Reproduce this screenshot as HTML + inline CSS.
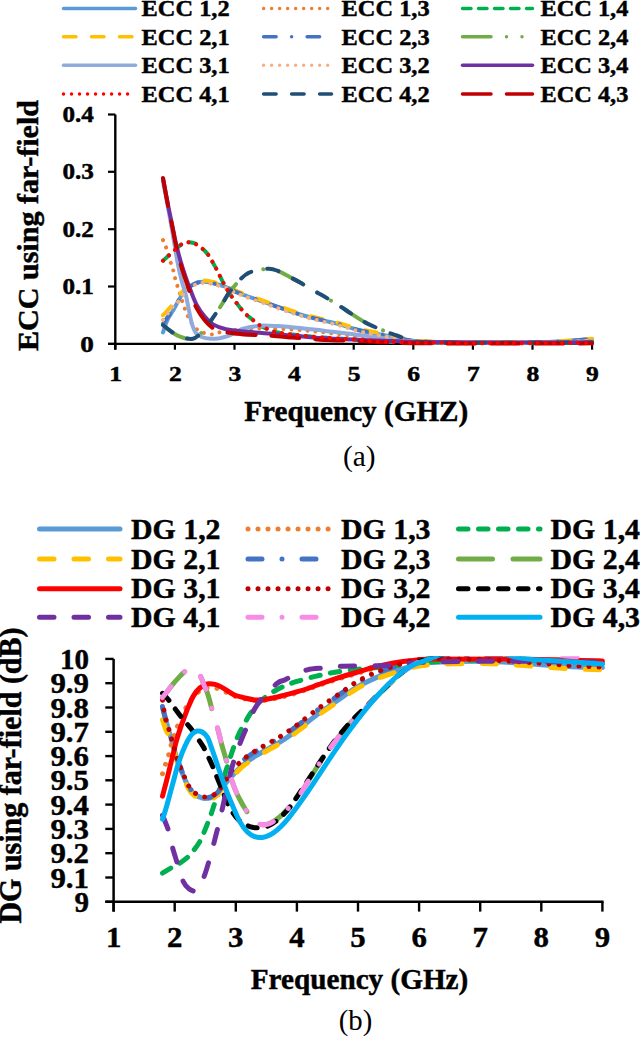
<!DOCTYPE html>
<html><head><meta charset="utf-8"><title>ECC and DG</title>
<style>
html,body{margin:0;padding:0;background:#fff;}
body{width:640px;height:1037px;overflow:hidden;}
svg{display:block;}
text{font-family:"Liberation Serif",serif;}
text[font-weight="bold"]{stroke:#000;stroke-width:0.45px;paint-order:stroke;}
</style></head><body>
<svg width="640" height="1037" viewBox="0 0 640 1037">
<rect width="640" height="1037" fill="#fff"/>

<line x1="63.5" y1="8.4" x2="135.5" y2="8.4" stroke="#5B9BD5" stroke-width="3.5" stroke-linecap="round"/>
<text x="141.6" y="15.6" font-size="23.0" text-anchor="start" font-weight="bold" textLength="88.0" lengthAdjust="spacingAndGlyphs">ECC 1,2</text>
<line x1="263.6" y1="8.4" x2="331.5" y2="8.4" stroke="#ED7D31" stroke-width="3.5" stroke-linecap="round" stroke-dasharray="0.01 8.00"/>
<text x="341.6" y="15.6" font-size="23.0" text-anchor="start" font-weight="bold" textLength="88.0" lengthAdjust="spacingAndGlyphs">ECC 1,3</text>
<line x1="462.5" y1="8.4" x2="532.5" y2="8.4" stroke="#00B050" stroke-width="3.5" stroke-linecap="round" stroke-dasharray="8.50 7.50"/>
<text x="540.4" y="15.6" font-size="23.0" text-anchor="start" font-weight="bold" textLength="88.0" lengthAdjust="spacingAndGlyphs">ECC 1,4</text>
<line x1="63.5" y1="36.8" x2="135.5" y2="36.8" stroke="#FFC000" stroke-width="3.5" stroke-linecap="round" stroke-dasharray="12.50 15.50"/>
<text x="141.6" y="44.7" font-size="23.0" text-anchor="start" font-weight="bold" textLength="88.0" lengthAdjust="spacingAndGlyphs">ECC 2,1</text>
<line x1="263.6" y1="36.8" x2="331.5" y2="36.8" stroke="#4472C4" stroke-width="3.5" stroke-linecap="round" stroke-dasharray="12.50 15.50 0.01 15.50"/>
<text x="341.6" y="44.7" font-size="23.0" text-anchor="start" font-weight="bold" textLength="88.0" lengthAdjust="spacingAndGlyphs">ECC 2,3</text>
<line x1="462.5" y1="36.8" x2="532.5" y2="36.8" stroke="#70AD47" stroke-width="3.5" stroke-linecap="round" stroke-dasharray="28.50 15.50 0.01 15.50 0.01 15.50"/>
<text x="540.4" y="44.7" font-size="23.0" text-anchor="start" font-weight="bold" textLength="88.0" lengthAdjust="spacingAndGlyphs">ECC 2,4</text>
<line x1="63.5" y1="65.2" x2="135.5" y2="65.2" stroke="#8FAADC" stroke-width="3.5" stroke-linecap="round"/>
<text x="141.6" y="73.3" font-size="23.0" text-anchor="start" font-weight="bold" textLength="88.0" lengthAdjust="spacingAndGlyphs">ECC 3,1</text>
<line x1="263.6" y1="65.2" x2="331.5" y2="65.2" stroke="#F4B183" stroke-width="3.5" stroke-linecap="round" stroke-dasharray="0.01 8.00"/>
<text x="341.6" y="73.3" font-size="23.0" text-anchor="start" font-weight="bold" textLength="88.0" lengthAdjust="spacingAndGlyphs">ECC 3,2</text>
<line x1="462.5" y1="65.2" x2="532.5" y2="65.2" stroke="#7030A0" stroke-width="3.5" stroke-linecap="round"/>
<text x="540.4" y="73.3" font-size="23.0" text-anchor="start" font-weight="bold" textLength="88.0" lengthAdjust="spacingAndGlyphs">ECC 3,4</text>
<line x1="63.5" y1="94.0" x2="135.5" y2="94.0" stroke="#FF0000" stroke-width="3.5" stroke-linecap="round" stroke-dasharray="0.01 8.00"/>
<text x="141.6" y="102.1" font-size="23.0" text-anchor="start" font-weight="bold" textLength="88.0" lengthAdjust="spacingAndGlyphs">ECC 4,1</text>
<line x1="263.6" y1="94.0" x2="331.5" y2="94.0" stroke="#1F4E79" stroke-width="3.5" stroke-linecap="round" stroke-dasharray="12.50 15.50"/>
<text x="341.6" y="102.1" font-size="23.0" text-anchor="start" font-weight="bold" textLength="88.0" lengthAdjust="spacingAndGlyphs">ECC 4,2</text>
<line x1="462.5" y1="94.0" x2="532.5" y2="94.0" stroke="#C00000" stroke-width="3.5" stroke-linecap="round" stroke-dasharray="28.50 15.50"/>
<text x="540.4" y="102.1" font-size="23.0" text-anchor="start" font-weight="bold" textLength="88.0" lengthAdjust="spacingAndGlyphs">ECC 4,3</text>
<line x1="115.3" y1="114.5" x2="115.3" y2="349.7" stroke="#000" stroke-width="2.4" stroke-linecap="butt"/>
<line x1="108.0" y1="343.9" x2="593.2" y2="343.9" stroke="#000" stroke-width="2.2" stroke-linecap="butt"/>
<line x1="108.0" y1="343.9" x2="115.3" y2="343.9" stroke="#000" stroke-width="2.2" stroke-linecap="butt"/>
<line x1="108.0" y1="286.5" x2="115.3" y2="286.5" stroke="#000" stroke-width="2.2" stroke-linecap="butt"/>
<line x1="108.0" y1="229.2" x2="115.3" y2="229.2" stroke="#000" stroke-width="2.2" stroke-linecap="butt"/>
<line x1="108.0" y1="171.8" x2="115.3" y2="171.8" stroke="#000" stroke-width="2.2" stroke-linecap="butt"/>
<line x1="108.0" y1="114.5" x2="115.3" y2="114.5" stroke="#000" stroke-width="2.2" stroke-linecap="butt"/>
<line x1="115.3" y1="343.9" x2="115.3" y2="349.7" stroke="#000" stroke-width="2.2" stroke-linecap="butt"/>
<line x1="174.9" y1="343.9" x2="174.9" y2="349.7" stroke="#000" stroke-width="2.2" stroke-linecap="butt"/>
<line x1="234.5" y1="343.9" x2="234.5" y2="349.7" stroke="#000" stroke-width="2.2" stroke-linecap="butt"/>
<line x1="294.1" y1="343.9" x2="294.1" y2="349.7" stroke="#000" stroke-width="2.2" stroke-linecap="butt"/>
<line x1="353.7" y1="343.9" x2="353.7" y2="349.7" stroke="#000" stroke-width="2.2" stroke-linecap="butt"/>
<line x1="413.3" y1="343.9" x2="413.3" y2="349.7" stroke="#000" stroke-width="2.2" stroke-linecap="butt"/>
<line x1="472.9" y1="343.9" x2="472.9" y2="349.7" stroke="#000" stroke-width="2.2" stroke-linecap="butt"/>
<line x1="532.5" y1="343.9" x2="532.5" y2="349.7" stroke="#000" stroke-width="2.2" stroke-linecap="butt"/>
<line x1="592.1" y1="343.9" x2="592.1" y2="349.7" stroke="#000" stroke-width="2.2" stroke-linecap="butt"/>
<text x="93.9" y="351.5" font-size="22.5" text-anchor="end" font-weight="bold" textLength="13.6" lengthAdjust="spacingAndGlyphs">0</text>
<text x="93.9" y="294.1" font-size="22.5" text-anchor="end" font-weight="bold" textLength="31.4" lengthAdjust="spacingAndGlyphs">0.1</text>
<text x="93.9" y="236.8" font-size="22.5" text-anchor="end" font-weight="bold" textLength="31.4" lengthAdjust="spacingAndGlyphs">0.2</text>
<text x="93.9" y="179.4" font-size="22.5" text-anchor="end" font-weight="bold" textLength="31.4" lengthAdjust="spacingAndGlyphs">0.3</text>
<text x="93.9" y="122.1" font-size="22.5" text-anchor="end" font-weight="bold" textLength="31.4" lengthAdjust="spacingAndGlyphs">0.4</text>
<text x="115.7" y="380.6" font-size="20.5" text-anchor="middle" font-weight="bold" textLength="12.8" lengthAdjust="spacingAndGlyphs">1</text>
<text x="175.3" y="380.6" font-size="20.5" text-anchor="middle" font-weight="bold" textLength="12.8" lengthAdjust="spacingAndGlyphs">2</text>
<text x="234.9" y="380.6" font-size="20.5" text-anchor="middle" font-weight="bold" textLength="12.8" lengthAdjust="spacingAndGlyphs">3</text>
<text x="294.5" y="380.6" font-size="20.5" text-anchor="middle" font-weight="bold" textLength="12.8" lengthAdjust="spacingAndGlyphs">4</text>
<text x="354.1" y="380.6" font-size="20.5" text-anchor="middle" font-weight="bold" textLength="12.8" lengthAdjust="spacingAndGlyphs">5</text>
<text x="413.7" y="380.6" font-size="20.5" text-anchor="middle" font-weight="bold" textLength="12.8" lengthAdjust="spacingAndGlyphs">6</text>
<text x="473.3" y="380.6" font-size="20.5" text-anchor="middle" font-weight="bold" textLength="12.8" lengthAdjust="spacingAndGlyphs">7</text>
<text x="532.9" y="380.6" font-size="20.5" text-anchor="middle" font-weight="bold" textLength="12.8" lengthAdjust="spacingAndGlyphs">8</text>
<text x="592.5" y="380.6" font-size="20.5" text-anchor="middle" font-weight="bold" textLength="12.8" lengthAdjust="spacingAndGlyphs">9</text>
<text x="244.3" y="421.0" font-size="29.0" text-anchor="start" font-weight="bold" textLength="224.0" lengthAdjust="spacingAndGlyphs">Frequency (GHZ)</text>
<text x="343.0" y="466.3" font-size="29.5" text-anchor="start" textLength="32.6" lengthAdjust="spacingAndGlyphs">(a)</text>
<text x="38.2" y="351.0" font-size="29.5" text-anchor="start" font-weight="bold" textLength="251.0" lengthAdjust="spacingAndGlyphs" transform="rotate(-90 38.2 351.0)">ECC using far-field</text>
<line x1="39.5" y1="529.0" x2="120.0" y2="529.0" stroke="#5B9BD5" stroke-width="5.0" stroke-linecap="round"/>
<text x="131.0" y="538.7" font-size="29.0" text-anchor="start" font-weight="bold" textLength="89.5" lengthAdjust="spacingAndGlyphs">DG 1,2</text>
<line x1="248.0" y1="529.0" x2="328.5" y2="529.0" stroke="#ED7D31" stroke-width="5.0" stroke-linecap="round" stroke-dasharray="0.01 10"/>
<text x="341.0" y="538.7" font-size="29.0" text-anchor="start" font-weight="bold" textLength="89.5" lengthAdjust="spacingAndGlyphs">DG 1,3</text>
<line x1="458.5" y1="529.0" x2="540.0" y2="529.0" stroke="#00B050" stroke-width="5.0" stroke-linecap="round" stroke-dasharray="9.50 10.50"/>
<text x="550.5" y="538.7" font-size="29.0" text-anchor="start" font-weight="bold" textLength="89.5" lengthAdjust="spacingAndGlyphs">DG 1,4</text>
<line x1="39.5" y1="559.0" x2="120.0" y2="559.0" stroke="#FFC000" stroke-width="5.0" stroke-linecap="round" stroke-dasharray="14.50 20.00"/>
<text x="131.0" y="568.7" font-size="29.0" text-anchor="start" font-weight="bold" textLength="89.5" lengthAdjust="spacingAndGlyphs">DG 2,1</text>
<line x1="248.0" y1="559.0" x2="328.5" y2="559.0" stroke="#4472C4" stroke-width="5.0" stroke-linecap="round" stroke-dasharray="14.00 20.00 0.01 20.00"/>
<text x="341.0" y="568.7" font-size="29.0" text-anchor="start" font-weight="bold" textLength="89.5" lengthAdjust="spacingAndGlyphs">DG 2,3</text>
<line x1="458.5" y1="559.0" x2="540.0" y2="559.0" stroke="#70AD47" stroke-width="5.0" stroke-linecap="round" stroke-dasharray="34.00 20.50"/>
<text x="550.5" y="568.7" font-size="29.0" text-anchor="start" font-weight="bold" textLength="89.5" lengthAdjust="spacingAndGlyphs">DG 2,4</text>
<line x1="39.5" y1="588.7" x2="120.0" y2="588.7" stroke="#FF0000" stroke-width="5.0" stroke-linecap="round"/>
<text x="131.0" y="598.4" font-size="29.0" text-anchor="start" font-weight="bold" textLength="89.5" lengthAdjust="spacingAndGlyphs">DG 3,1</text>
<line x1="248.0" y1="588.7" x2="328.5" y2="588.7" stroke="#C00000" stroke-width="5.0" stroke-linecap="round" stroke-dasharray="0.01 10"/>
<text x="341.0" y="598.4" font-size="29.0" text-anchor="start" font-weight="bold" textLength="89.5" lengthAdjust="spacingAndGlyphs">DG 3,2</text>
<line x1="458.5" y1="588.7" x2="540.0" y2="588.7" stroke="#000000" stroke-width="5.0" stroke-linecap="round" stroke-dasharray="9.50 10.50"/>
<text x="550.5" y="598.4" font-size="29.0" text-anchor="start" font-weight="bold" textLength="89.5" lengthAdjust="spacingAndGlyphs">DG 3,4</text>
<line x1="39.5" y1="617.2" x2="120.0" y2="617.2" stroke="#7030A0" stroke-width="5.0" stroke-linecap="round" stroke-dasharray="14.50 20.00"/>
<text x="131.0" y="627.4" font-size="29.0" text-anchor="start" font-weight="bold" textLength="89.5" lengthAdjust="spacingAndGlyphs">DG 4,1</text>
<line x1="248.0" y1="617.2" x2="328.5" y2="617.2" stroke="#F78BE6" stroke-width="5.0" stroke-linecap="round" stroke-dasharray="14.00 20.00 0.01 20.00"/>
<text x="341.0" y="627.4" font-size="29.0" text-anchor="start" font-weight="bold" textLength="89.5" lengthAdjust="spacingAndGlyphs">DG 4,2</text>
<line x1="458.5" y1="617.2" x2="540.0" y2="617.2" stroke="#00B0F0" stroke-width="5.0" stroke-linecap="round"/>
<text x="550.5" y="627.4" font-size="29.0" text-anchor="start" font-weight="bold" textLength="89.5" lengthAdjust="spacingAndGlyphs">DG 4,3</text>
<line x1="113.6" y1="658.9" x2="113.6" y2="911.6" stroke="#000" stroke-width="2.5" stroke-linecap="butt"/>
<line x1="105.3" y1="901.8" x2="603.6" y2="901.8" stroke="#000" stroke-width="2.4" stroke-linecap="butt"/>
<line x1="105.3" y1="901.8" x2="113.6" y2="901.8" stroke="#000" stroke-width="2.4" stroke-linecap="butt"/>
<line x1="105.3" y1="877.5" x2="113.6" y2="877.5" stroke="#000" stroke-width="2.4" stroke-linecap="butt"/>
<line x1="105.3" y1="853.2" x2="113.6" y2="853.2" stroke="#000" stroke-width="2.4" stroke-linecap="butt"/>
<line x1="105.3" y1="828.9" x2="113.6" y2="828.9" stroke="#000" stroke-width="2.4" stroke-linecap="butt"/>
<line x1="105.3" y1="804.6" x2="113.6" y2="804.6" stroke="#000" stroke-width="2.4" stroke-linecap="butt"/>
<line x1="105.3" y1="780.3" x2="113.6" y2="780.3" stroke="#000" stroke-width="2.4" stroke-linecap="butt"/>
<line x1="105.3" y1="756.1" x2="113.6" y2="756.1" stroke="#000" stroke-width="2.4" stroke-linecap="butt"/>
<line x1="105.3" y1="731.8" x2="113.6" y2="731.8" stroke="#000" stroke-width="2.4" stroke-linecap="butt"/>
<line x1="105.3" y1="707.5" x2="113.6" y2="707.5" stroke="#000" stroke-width="2.4" stroke-linecap="butt"/>
<line x1="105.3" y1="683.2" x2="113.6" y2="683.2" stroke="#000" stroke-width="2.4" stroke-linecap="butt"/>
<line x1="105.3" y1="658.9" x2="113.6" y2="658.9" stroke="#000" stroke-width="2.4" stroke-linecap="butt"/>
<line x1="113.6" y1="901.8" x2="113.6" y2="911.6" stroke="#000" stroke-width="2.4" stroke-linecap="butt"/>
<line x1="174.7" y1="901.8" x2="174.7" y2="911.6" stroke="#000" stroke-width="2.4" stroke-linecap="butt"/>
<line x1="235.8" y1="901.8" x2="235.8" y2="911.6" stroke="#000" stroke-width="2.4" stroke-linecap="butt"/>
<line x1="296.9" y1="901.8" x2="296.9" y2="911.6" stroke="#000" stroke-width="2.4" stroke-linecap="butt"/>
<line x1="358.0" y1="901.8" x2="358.0" y2="911.6" stroke="#000" stroke-width="2.4" stroke-linecap="butt"/>
<line x1="419.1" y1="901.8" x2="419.1" y2="911.6" stroke="#000" stroke-width="2.4" stroke-linecap="butt"/>
<line x1="480.2" y1="901.8" x2="480.2" y2="911.6" stroke="#000" stroke-width="2.4" stroke-linecap="butt"/>
<line x1="541.3" y1="901.8" x2="541.3" y2="911.6" stroke="#000" stroke-width="2.4" stroke-linecap="butt"/>
<line x1="602.4" y1="901.8" x2="602.4" y2="911.6" stroke="#000" stroke-width="2.4" stroke-linecap="butt"/>
<text x="89.0" y="911.9" font-size="30.2" text-anchor="end" font-weight="bold" textLength="14.5" lengthAdjust="spacingAndGlyphs">9</text>
<text x="89.0" y="887.6" font-size="30.2" text-anchor="end" font-weight="bold" textLength="38.6" lengthAdjust="spacingAndGlyphs">9.1</text>
<text x="89.0" y="863.3" font-size="30.2" text-anchor="end" font-weight="bold" textLength="38.6" lengthAdjust="spacingAndGlyphs">9.2</text>
<text x="89.0" y="839.0" font-size="30.2" text-anchor="end" font-weight="bold" textLength="38.6" lengthAdjust="spacingAndGlyphs">9.3</text>
<text x="89.0" y="814.7" font-size="30.2" text-anchor="end" font-weight="bold" textLength="38.6" lengthAdjust="spacingAndGlyphs">9.4</text>
<text x="89.0" y="790.4" font-size="30.2" text-anchor="end" font-weight="bold" textLength="38.6" lengthAdjust="spacingAndGlyphs">9.5</text>
<text x="89.0" y="766.2" font-size="30.2" text-anchor="end" font-weight="bold" textLength="38.6" lengthAdjust="spacingAndGlyphs">9.6</text>
<text x="89.0" y="741.9" font-size="30.2" text-anchor="end" font-weight="bold" textLength="38.6" lengthAdjust="spacingAndGlyphs">9.7</text>
<text x="89.0" y="717.6" font-size="30.2" text-anchor="end" font-weight="bold" textLength="38.6" lengthAdjust="spacingAndGlyphs">9.8</text>
<text x="89.0" y="693.3" font-size="30.2" text-anchor="end" font-weight="bold" textLength="38.6" lengthAdjust="spacingAndGlyphs">9.9</text>
<text x="89.0" y="669.0" font-size="30.2" text-anchor="end" font-weight="bold" textLength="29.0" lengthAdjust="spacingAndGlyphs">10</text>
<text x="113.6" y="947.2" font-size="30.2" text-anchor="middle" font-weight="bold" textLength="15.4" lengthAdjust="spacingAndGlyphs">1</text>
<text x="174.7" y="947.2" font-size="30.2" text-anchor="middle" font-weight="bold" textLength="15.4" lengthAdjust="spacingAndGlyphs">2</text>
<text x="235.8" y="947.2" font-size="30.2" text-anchor="middle" font-weight="bold" textLength="15.4" lengthAdjust="spacingAndGlyphs">3</text>
<text x="296.9" y="947.2" font-size="30.2" text-anchor="middle" font-weight="bold" textLength="15.4" lengthAdjust="spacingAndGlyphs">4</text>
<text x="358.0" y="947.2" font-size="30.2" text-anchor="middle" font-weight="bold" textLength="15.4" lengthAdjust="spacingAndGlyphs">5</text>
<text x="419.1" y="947.2" font-size="30.2" text-anchor="middle" font-weight="bold" textLength="15.4" lengthAdjust="spacingAndGlyphs">6</text>
<text x="480.2" y="947.2" font-size="30.2" text-anchor="middle" font-weight="bold" textLength="15.4" lengthAdjust="spacingAndGlyphs">7</text>
<text x="541.3" y="947.2" font-size="30.2" text-anchor="middle" font-weight="bold" textLength="15.4" lengthAdjust="spacingAndGlyphs">8</text>
<text x="602.4" y="947.2" font-size="30.2" text-anchor="middle" font-weight="bold" textLength="15.4" lengthAdjust="spacingAndGlyphs">9</text>
<text x="250.8" y="989.4" font-size="29.0" text-anchor="start" font-weight="bold" textLength="217.5" lengthAdjust="spacingAndGlyphs">Frequency (GHz)</text>
<text x="338.8" y="1030.0" font-size="28.5" text-anchor="start" textLength="33.5" lengthAdjust="spacingAndGlyphs">(b)</text>
<text x="21.2" y="923.5" font-size="30.5" text-anchor="start" font-weight="bold" textLength="296.0" lengthAdjust="spacingAndGlyphs" transform="rotate(-90 21.2 923.5)">DG using far-field (dB)</text>
<g>
<path d="M163.0 332.4 C163.7 330.3 165.7 323.6 167.5 319.8 C169.3 316.0 171.8 312.8 173.7 309.5 C175.6 306.2 177.1 302.9 178.8 300.0 C180.5 297.2 182.1 294.6 183.8 292.5 C185.4 290.5 187.1 289.1 188.7 287.7 C190.4 286.3 191.9 285.2 193.7 284.3 C195.6 283.3 197.7 282.3 200.0 282.0 C202.3 281.6 205.0 281.7 207.5 282.0 C210.0 282.2 212.1 282.9 215.0 283.7 C217.9 284.4 221.9 285.4 225.0 286.5 C228.0 287.7 229.8 289.0 233.3 290.6 C236.8 292.1 241.2 294.0 245.8 295.7 C250.5 297.5 256.2 299.3 261.3 301.1 C266.5 302.9 271.7 304.8 276.8 306.6 C282.0 308.4 287.1 310.3 292.3 312.0 C297.5 313.7 302.8 315.3 308.1 316.7 C313.4 318.1 318.8 319.4 323.9 320.6 C329.0 321.8 333.2 322.6 338.8 324.1 C344.4 325.6 351.0 328.1 357.3 329.7 C363.5 331.3 370.1 332.3 376.3 333.6 C382.6 334.8 388.7 336.0 394.8 337.2 C401.0 338.4 405.3 339.9 413.3 340.7 C421.3 341.6 433.2 341.9 443.1 342.2 C453.0 342.5 458.0 342.6 472.9 342.6 C487.8 342.7 517.6 342.7 532.5 342.5 C547.4 342.2 552.4 341.9 562.3 341.3 C572.2 340.7 587.1 339.4 592.1 339.0" fill="none" stroke="#5B9BD5" stroke-width="4.0" stroke-linecap="round" stroke-linejoin="round"/>
<path d="M163.0 240.1 C163.5 241.4 165.0 244.4 166.3 248.1 C167.5 251.9 169.5 258.8 170.6 262.5 C171.8 266.1 172.4 267.4 173.1 269.9 C173.8 272.4 174.2 274.6 174.9 277.4 C175.6 280.1 176.7 283.5 177.5 286.3 C178.4 289.0 179.3 291.5 180.0 293.8 C180.8 296.1 181.1 297.7 181.9 300.0 C182.6 302.3 183.4 305.0 184.4 307.5 C185.3 310.0 186.3 312.5 187.5 315.0 C188.6 317.5 189.8 320.2 191.2 322.5 C192.7 324.8 194.4 327.1 196.2 328.8 C198.1 330.4 200.0 331.6 202.5 332.5 C205.0 333.4 208.5 334.4 211.3 334.4 C214.0 334.4 214.9 333.2 218.8 332.5 C222.6 331.8 227.4 330.8 234.5 330.1 C241.6 329.5 251.4 328.5 261.3 328.4 C271.3 328.3 283.7 328.9 294.1 329.6 C304.5 330.2 314.0 331.4 323.9 332.4 C333.8 333.5 343.8 334.8 353.7 335.9 C363.6 336.9 373.6 337.7 383.5 338.7 C393.4 339.8 398.4 341.5 413.3 342.2 C428.2 342.8 453.0 342.7 472.9 342.8 C492.8 342.8 517.6 342.7 532.5 342.5 C547.4 342.2 552.4 341.9 562.3 341.3 C572.2 340.7 587.1 339.2 592.1 338.7" fill="none" stroke="#ED7D31" stroke-width="4.0" stroke-linecap="round" stroke-linejoin="round" stroke-dasharray="0.01 8.00"/>
<path d="M163.0 260.7 C163.9 259.9 166.5 257.6 168.8 255.6 C171.0 253.6 174.1 250.6 176.3 248.7 C178.5 246.8 180.2 245.2 182.1 244.1 C183.9 243.1 185.5 242.6 187.5 242.4 C189.4 242.2 192.1 242.5 193.7 243.0 C195.4 243.4 195.8 244.1 197.5 245.3 C199.2 246.4 201.9 248.1 203.7 249.8 C205.6 251.6 207.3 253.6 208.8 255.6 C210.2 257.6 211.3 259.7 212.5 261.9 C213.8 264.1 215.0 266.4 216.3 268.8 C217.5 271.2 218.8 273.7 220.0 276.2 C221.3 278.7 222.5 281.4 223.8 283.7 C225.0 286.0 226.2 287.8 227.5 290.0 C228.9 292.2 230.4 294.8 231.9 296.9 C233.3 299.0 234.8 300.6 236.3 302.6 C237.8 304.6 239.3 306.8 241.1 308.9 C242.8 311.0 245.1 313.4 247.0 315.2 C249.0 317.0 250.6 318.1 252.7 319.8 C254.8 321.5 257.3 323.9 259.5 325.3 C261.8 326.8 263.7 327.4 266.1 328.4 C268.5 329.5 271.3 330.8 273.8 331.6 C276.4 332.4 278.2 332.6 281.6 333.1 C285.0 333.6 287.0 334.0 294.1 334.7 C301.2 335.5 314.0 336.8 323.9 337.6 C333.8 338.4 343.8 338.9 353.7 339.6 C363.6 340.3 373.6 341.1 383.5 341.6 C393.4 342.1 398.4 342.2 413.3 342.5 C428.2 342.7 453.0 342.9 472.9 343.0 C492.8 343.1 512.6 343.1 532.5 343.0 C552.4 343.0 582.2 342.8 592.1 342.8" fill="none" stroke="#00B050" stroke-width="4.0" stroke-linecap="round" stroke-linejoin="round" stroke-dasharray="8.00 8.00"/>
<path d="M163.0 315.2 C164.2 313.9 167.3 311.0 170.1 307.5 C173.0 303.9 177.2 297.2 180.0 294.0 C182.8 290.8 184.5 290.1 186.8 288.3 C189.1 286.5 191.5 284.4 193.7 283.1 C195.9 281.9 197.7 281.2 200.0 280.8 C202.3 280.4 205.0 280.5 207.5 280.8 C210.0 281.1 212.1 281.8 215.0 282.5 C217.9 283.3 221.9 284.3 225.0 285.4 C228.0 286.5 229.8 287.9 233.3 289.4 C236.8 290.9 241.2 292.8 245.8 294.6 C250.5 296.3 256.2 298.2 261.3 300.0 C266.5 301.8 271.7 303.7 276.8 305.5 C282.0 307.3 287.1 309.2 292.3 310.9 C297.5 312.5 302.8 314.1 308.1 315.6 C313.4 317.0 318.8 318.2 323.9 319.5 C329.0 320.7 333.2 321.5 338.8 323.0 C344.4 324.5 351.0 327.0 357.3 328.5 C363.5 330.1 370.1 331.2 376.3 332.4 C382.6 333.7 388.7 334.7 394.8 336.0 C401.0 337.4 405.3 339.5 413.3 340.5 C421.3 341.4 433.2 341.6 443.1 341.9 C453.0 342.2 458.0 342.3 472.9 342.4 C487.8 342.4 517.6 342.4 532.5 342.2 C547.4 342.0 552.4 341.6 562.3 341.0 C572.2 340.5 587.1 339.1 592.1 338.7" fill="none" stroke="#FFC000" stroke-width="4.0" stroke-linecap="round" stroke-linejoin="round" stroke-dasharray="12.00 16.00"/>
<path d="M163.0 323.8 C164.0 322.4 167.0 318.0 168.9 315.2 C170.9 312.5 173.3 309.7 174.9 307.2 C176.5 304.7 177.3 302.5 178.8 300.0 C180.3 297.6 182.1 294.6 183.8 292.5 C185.4 290.5 187.1 289.1 188.7 287.7 C190.4 286.3 191.9 285.2 193.7 284.3 C195.6 283.3 197.7 282.3 200.0 282.0 C202.3 281.6 205.0 281.7 207.5 282.0 C210.0 282.2 212.1 282.9 215.0 283.7 C217.9 284.4 221.9 285.4 225.0 286.5 C228.0 287.7 229.8 289.0 233.3 290.6 C236.8 292.1 241.2 294.0 245.8 295.7 C250.5 297.5 256.2 299.3 261.3 301.1 C266.5 302.9 271.7 304.8 276.8 306.6 C282.0 308.4 287.1 310.3 292.3 312.0 C297.5 313.7 302.8 315.3 308.1 316.7 C313.4 318.1 318.8 319.4 323.9 320.6 C329.0 321.8 333.2 322.6 338.8 324.1 C344.4 325.6 351.0 328.1 357.3 329.7 C363.5 331.3 370.1 332.3 376.3 333.6 C382.6 334.8 388.7 336.0 394.8 337.2 C401.0 338.4 405.3 339.9 413.3 340.7 C421.3 341.6 433.2 341.9 443.1 342.2 C453.0 342.5 458.0 342.6 472.9 342.6 C487.8 342.7 517.6 342.7 532.5 342.5 C547.4 342.2 552.4 341.9 562.3 341.3 C572.2 340.7 587.1 339.4 592.1 339.0" fill="none" stroke="#4472C4" stroke-width="4.0" stroke-linecap="round" stroke-linejoin="round" stroke-dasharray="12.00 16.00 0.01 16.00"/>
<path d="M163.0 325.0 C164.2 325.9 167.6 328.9 170.0 330.7 C172.4 332.5 175.0 334.4 177.5 335.6 C180.0 336.9 182.5 337.6 185.0 338.2 C187.6 338.7 190.5 339.2 192.8 338.7 C195.1 338.3 196.8 336.9 198.7 335.3 C200.7 333.7 202.7 331.4 204.7 329.0 C206.7 326.6 208.7 323.7 210.7 321.0 C212.6 318.2 214.6 315.3 216.6 312.4 C218.6 309.4 220.6 306.3 222.6 303.2 C224.6 300.0 226.6 296.3 228.5 293.4 C230.5 290.6 232.6 288.3 234.5 286.0 C236.4 283.7 237.5 281.9 239.9 279.7 C242.2 277.5 245.5 274.4 248.8 272.8 C252.1 271.2 256.2 270.6 259.5 269.9 C262.9 269.2 266.2 268.7 269.1 268.8 C271.9 268.9 273.4 269.2 276.8 270.5 C280.2 271.8 285.5 274.8 289.3 276.8 C293.2 278.8 296.2 280.3 300.1 282.5 C303.9 284.7 308.6 287.7 312.6 290.0 C316.5 292.3 319.5 293.7 323.9 296.3 C328.3 298.9 334.1 302.5 338.8 305.5 C343.5 308.4 347.2 311.1 351.9 314.1 C356.6 317.0 361.1 320.3 366.8 323.3 C372.5 326.2 380.9 329.6 385.9 331.6 C390.9 333.6 391.9 333.7 396.6 335.3 C401.3 336.9 406.1 340.1 413.9 341.3 C421.6 342.5 433.3 342.2 443.1 342.5 C452.9 342.7 458.0 342.7 472.9 342.8 C487.8 342.8 512.6 342.8 532.5 342.8 C552.4 342.7 582.2 342.5 592.1 342.5" fill="none" stroke="#70AD47" stroke-width="4.0" stroke-linecap="round" stroke-linejoin="round" stroke-dasharray="28.00 16.00 0.01 16.00 0.01 16.00"/>
<path d="M163.0 181.6 C163.9 186.2 166.7 200.7 168.3 209.1 C169.9 217.5 170.9 223.3 172.4 232.1 C173.9 240.8 175.9 253.6 177.4 261.6 C178.9 269.6 180.1 274.5 181.5 279.9 C182.8 285.3 184.4 289.4 185.6 294.1 C186.8 298.9 187.6 303.6 188.6 308.4 C189.6 313.2 190.4 318.6 191.6 322.7 C192.8 326.7 194.1 330.4 195.8 332.8 C197.4 335.2 199.2 336.0 201.7 337.0 C204.2 338.0 207.7 338.5 210.7 338.7 C213.6 338.9 216.6 338.6 219.6 338.2 C222.6 337.7 226.1 336.7 228.5 335.9 C231.0 335.0 232.2 334.2 234.5 333.0 C236.8 331.9 239.3 330.0 242.2 329.0 C245.2 327.9 248.7 327.3 252.4 326.7 C256.1 326.1 260.2 325.6 264.3 325.5 C268.4 325.5 272.1 325.8 276.8 326.1 C281.5 326.4 287.1 326.8 292.3 327.3 C297.5 327.7 302.8 328.4 308.1 329.0 C313.4 329.6 316.3 329.8 323.9 330.7 C331.5 331.6 343.8 332.9 353.7 334.2 C363.6 335.4 373.6 336.9 383.5 338.2 C393.4 339.4 398.4 340.8 413.3 341.6 C428.2 342.4 453.0 342.6 472.9 342.8 C492.8 342.9 512.6 343.0 532.5 342.8 C552.4 342.5 582.2 341.3 592.1 341.0" fill="none" stroke="#8FAADC" stroke-width="4.0" stroke-linecap="round" stroke-linejoin="round"/>
<path d="M163.0 319.8 C164.0 318.5 167.0 314.5 168.9 311.8 C170.9 309.1 173.3 305.5 174.9 303.8 C176.5 302.0 177.3 302.9 178.8 301.2 C180.3 299.5 182.1 295.7 183.8 293.7 C185.4 291.6 187.1 290.2 188.7 288.8 C190.4 287.5 191.9 286.4 193.7 285.4 C195.6 284.4 197.7 283.5 200.0 283.1 C202.3 282.7 205.0 282.8 207.5 283.1 C210.0 283.4 212.1 284.1 215.0 284.8 C217.9 285.6 221.9 286.6 225.0 287.7 C228.0 288.8 229.8 290.2 233.3 291.7 C236.8 293.2 241.2 295.1 245.8 296.9 C250.5 298.6 256.2 300.4 261.3 302.3 C266.5 304.1 271.7 306.0 276.8 307.8 C282.0 309.6 287.1 311.5 292.3 313.2 C297.5 314.8 302.8 316.4 308.1 317.9 C313.4 319.3 318.8 320.5 323.9 321.8 C329.0 323.0 333.2 323.8 338.8 325.3 C344.4 326.8 351.0 329.2 357.3 330.8 C363.5 332.4 370.1 333.5 376.3 334.7 C382.6 336.0 388.7 337.1 394.8 338.3 C401.0 339.5 405.3 341.1 413.3 341.9 C421.3 342.7 433.2 343.0 443.1 343.3 C453.0 343.6 458.0 343.7 472.9 343.8 C487.8 343.8 517.6 343.8 532.5 343.6 C547.4 343.4 552.4 343.0 562.3 342.5 C572.2 341.9 587.1 340.6 592.1 340.2" fill="none" stroke="#F4B183" stroke-width="4.0" stroke-linecap="round" stroke-linejoin="round" stroke-dasharray="0.01 8.00"/>
<path d="M163.0 178.2 C163.9 182.8 166.7 198.3 168.3 206.3 C169.9 214.2 171.0 219.3 172.4 225.8 C173.7 232.3 175.0 239.4 176.4 245.3 C177.7 251.1 179.0 255.5 180.5 260.7 C182.0 266.0 183.9 271.8 185.6 276.8 C187.3 281.8 188.8 285.9 190.7 290.6 C192.5 295.2 194.3 300.5 196.7 304.9 C199.1 309.3 202.2 313.7 204.9 316.9 C207.6 320.2 209.7 322.4 213.0 324.4 C216.4 326.4 220.5 327.8 225.2 329.0 C230.0 330.1 235.4 330.6 241.5 331.3 C247.6 332.0 255.9 332.5 261.8 333.0 C267.7 333.5 271.7 333.7 276.8 334.2 C281.9 334.6 287.1 335.1 292.3 335.6 C297.5 336.1 302.8 336.6 308.1 337.0 C313.4 337.4 316.3 337.7 323.9 338.2 C331.5 338.6 343.8 339.2 353.7 339.6 C363.6 340.0 373.6 340.4 383.5 340.7 C393.4 341.1 398.4 341.6 413.3 341.9 C428.2 342.2 453.0 342.4 472.9 342.5 C492.8 342.6 512.6 342.5 532.5 342.5 C552.4 342.4 582.2 342.2 592.1 342.2" fill="none" stroke="#7030A0" stroke-width="4.0" stroke-linecap="round" stroke-linejoin="round"/>
<path d="M163.0 325.0 C164.2 325.9 167.6 328.9 170.0 330.7 C172.4 332.5 175.0 334.4 177.5 335.6 C180.0 336.9 182.5 337.6 185.0 338.2 C187.6 338.7 190.5 339.2 192.8 338.7 C195.1 338.3 196.8 336.9 198.7 335.3 C200.7 333.7 202.7 331.4 204.7 329.0 C206.7 326.6 208.7 323.7 210.7 321.0 C212.6 318.2 214.6 315.3 216.6 312.4 C218.6 309.4 220.6 306.3 222.6 303.2 C224.6 300.0 226.6 296.3 228.5 293.4 C230.5 290.6 232.6 288.3 234.5 286.0 C236.4 283.7 237.5 281.9 239.9 279.7 C242.2 277.5 245.5 274.4 248.8 272.8 C252.1 271.2 256.2 270.6 259.5 269.9 C262.9 269.2 266.2 268.7 269.1 268.8 C271.9 268.9 273.4 269.2 276.8 270.5 C280.2 271.8 285.5 274.8 289.3 276.8 C293.2 278.8 296.2 280.3 300.1 282.5 C303.9 284.7 308.6 287.7 312.6 290.0 C316.5 292.3 319.5 293.7 323.9 296.3 C328.3 298.9 334.1 302.5 338.8 305.5 C343.5 308.4 347.2 311.1 351.9 314.1 C356.6 317.0 361.1 320.3 366.8 323.3 C372.5 326.2 380.9 329.6 385.9 331.6 C390.9 333.6 391.9 333.7 396.6 335.3 C401.3 336.9 406.1 340.1 413.9 341.3 C421.6 342.5 433.3 342.2 443.1 342.5 C452.9 342.7 458.0 342.7 472.9 342.8 C487.8 342.8 512.6 342.8 532.5 342.8 C552.4 342.7 582.2 342.5 592.1 342.5" fill="none" stroke="#1F4E79" stroke-width="4.0" stroke-linecap="round" stroke-linejoin="round" stroke-dasharray="12.00 16.00"/>
<path d="M163.0 178.2 C163.9 182.9 166.7 198.7 168.3 206.8 C169.9 215.0 171.0 220.3 172.4 227.1 C173.7 233.9 175.0 241.5 176.4 247.6 C177.7 253.6 179.0 258.2 180.5 263.6 C182.0 269.0 183.9 274.8 185.6 279.9 C187.3 285.0 188.8 289.4 190.7 294.1 C192.5 298.9 194.3 304.0 196.7 308.4 C199.1 312.8 202.2 317.3 204.9 320.6 C207.6 323.9 209.7 326.2 213.0 328.1 C216.4 330.0 220.5 331.1 225.2 332.1 C230.0 333.1 235.4 333.6 241.5 334.2 C247.6 334.7 255.9 335.0 261.8 335.3 C267.7 335.6 271.7 335.8 276.8 336.2 C281.9 336.5 287.1 337.2 292.3 337.6 C297.5 338.0 302.8 338.1 308.1 338.5 C313.4 338.8 316.3 339.5 323.9 339.9 C331.5 340.3 343.8 340.4 353.7 340.7 C363.6 341.1 373.6 341.8 383.5 342.2 C393.4 342.6 398.4 343.0 413.3 343.2 C428.2 343.4 453.0 343.5 472.9 343.6 C492.8 343.6 512.6 343.6 532.5 343.6 C552.4 343.5 582.2 343.4 592.1 343.3" fill="none" stroke="#C00000" stroke-width="4.0" stroke-linecap="round" stroke-linejoin="round" stroke-dasharray="28.00 16.00"/>
<path d="M163.0 260.7 C163.9 259.9 166.5 257.6 168.8 255.6 C171.0 253.6 174.1 250.6 176.3 248.7 C178.5 246.8 180.2 245.2 182.1 244.1 C183.9 243.1 185.5 242.6 187.5 242.4 C189.4 242.2 192.1 242.5 193.7 243.0 C195.4 243.4 195.8 244.1 197.5 245.3 C199.2 246.4 201.9 248.1 203.7 249.8 C205.6 251.6 207.3 253.6 208.8 255.6 C210.2 257.6 211.3 259.7 212.5 261.9 C213.8 264.1 215.0 266.4 216.3 268.8 C217.5 271.2 218.8 273.7 220.0 276.2 C221.3 278.7 222.5 281.4 223.8 283.7 C225.0 286.0 226.2 287.8 227.5 290.0 C228.9 292.2 230.4 294.8 231.9 296.9 C233.3 299.0 234.8 300.6 236.3 302.6 C237.8 304.6 239.3 306.8 241.1 308.9 C242.8 311.0 245.1 313.4 247.0 315.2 C249.0 317.0 250.6 318.1 252.7 319.8 C254.8 321.5 257.3 323.9 259.5 325.3 C261.8 326.8 263.7 327.4 266.1 328.4 C268.5 329.5 271.3 330.8 273.8 331.6 C276.4 332.4 278.2 332.6 281.6 333.1 C285.0 333.6 287.0 334.0 294.1 334.7 C301.2 335.5 314.0 336.8 323.9 337.6 C333.8 338.4 343.8 338.9 353.7 339.6 C363.6 340.3 373.6 341.1 383.5 341.6 C393.4 342.1 398.4 342.2 413.3 342.5 C428.2 342.7 453.0 342.9 472.9 343.0 C492.8 343.1 512.6 343.1 532.5 343.0 C552.4 343.0 582.2 342.8 592.1 342.8" fill="none" stroke="#FF0000" stroke-width="4.0" stroke-linecap="round" stroke-linejoin="round" stroke-dasharray="0.01 8.00"/>
</g>
<defs><clipPath id="bclip"><rect x="100" y="656.2" width="540" height="260"/></clipPath></defs><g clip-path="url(#bclip)">
<path d="M162.5 707.5 C162.9 709.1 163.9 713.5 164.9 717.2 C165.9 720.9 167.4 725.6 168.6 729.8 C169.8 734.1 170.8 737.7 172.3 742.7 C173.7 747.7 175.7 755.3 177.1 759.7 C178.6 764.2 179.5 766.2 180.8 769.4 C182.1 772.7 183.5 776.2 184.8 779.1 C186.1 782.1 187.1 784.8 188.5 787.2 C190.0 789.5 191.6 791.8 193.5 793.5 C195.4 795.1 197.9 796.3 199.8 797.1 C201.6 798.0 202.7 798.5 204.6 798.6 C206.6 798.6 209.2 798.4 211.4 797.6 C213.5 796.7 215.4 795.5 217.5 793.5 C219.5 791.5 221.5 788.2 223.6 785.7 C225.6 783.2 227.7 780.7 229.7 778.4 C231.7 776.1 233.8 774.0 235.8 771.8 C237.8 769.7 239.6 767.8 241.9 765.8 C244.3 763.8 247.1 761.6 249.9 759.7 C252.6 757.8 255.5 756.1 258.4 754.4 C261.3 752.6 264.1 751.0 267.3 749.3 C270.4 747.5 274.0 745.7 277.3 743.7 C280.7 741.7 283.4 739.9 287.1 737.4 C290.9 734.8 294.8 732.1 300.0 728.1 C305.1 724.2 312.1 718.4 318.3 713.8 C324.5 709.2 330.9 705.1 337.2 700.7 C343.5 696.3 349.9 691.3 356.2 687.6 C362.5 683.8 368.9 680.8 375.1 678.1 C381.3 675.4 387.2 673.6 393.4 671.5 C399.6 669.5 406.1 667.4 412.4 665.9 C418.7 664.4 420.0 663.3 431.3 662.5 C442.6 661.8 467.0 661.3 480.2 661.3 C493.4 661.3 500.6 662.0 510.8 662.5 C520.9 663.1 531.1 664.0 541.3 664.7 C551.5 665.4 561.7 666.2 571.9 666.7 C582.0 667.2 597.3 667.5 602.4 667.6" fill="none" stroke="#5B9BD5" stroke-width="5.0" stroke-linecap="round" stroke-linejoin="round"/>
<path d="M162.5 773.8 C163.0 772.2 164.5 767.4 165.5 764.3 C166.6 761.2 167.7 758.2 168.6 755.1 C169.5 752.0 170.0 749.1 171.0 745.6 C172.1 742.1 173.4 738.0 174.7 734.2 C176.0 730.4 177.4 726.3 179.0 722.5 C180.5 718.8 182.0 715.4 183.9 711.9 C185.7 708.3 187.4 704.6 190.0 701.2 C192.5 697.8 196.1 693.7 199.1 691.4 C202.2 689.2 205.2 688.0 208.3 687.6 C211.4 687.1 214.4 687.7 217.5 688.5 C220.5 689.3 223.6 691.1 226.6 692.4 C229.7 693.8 232.2 695.4 235.8 696.5 C239.4 697.7 243.9 698.8 248.0 699.5 C252.1 700.2 256.2 700.8 260.2 700.7 C264.3 700.6 268.4 699.7 272.5 699.0 C276.5 698.2 280.6 697.3 284.7 696.3 C288.8 695.3 291.8 694.5 296.9 692.9 C302.0 691.3 308.5 688.9 315.2 686.6 C322.0 684.3 330.4 681.4 337.2 679.3 C344.0 677.2 349.9 675.6 356.2 673.7 C362.5 671.9 368.9 669.7 375.1 668.1 C381.3 666.5 387.2 665.1 393.4 664.0 C399.6 662.9 406.1 662.0 412.4 661.3 C418.7 660.7 420.0 660.4 431.3 660.1 C442.6 659.9 461.9 659.8 480.2 659.9 C498.5 659.9 520.9 660.1 541.3 660.4 C561.7 660.6 592.2 661.2 602.4 661.3" fill="none" stroke="#ED7D31" stroke-width="5.0" stroke-linecap="round" stroke-linejoin="round" stroke-dasharray="0.01 10"/>
<path d="M162.5 873.1 C164.0 872.2 168.9 869.1 171.6 867.6 C174.3 866.0 176.0 865.6 178.7 863.9 C181.4 862.2 185.3 859.3 187.8 857.1 C190.3 854.9 191.7 853.1 193.6 850.5 C195.6 848.0 198.1 844.4 199.8 841.6 C201.4 838.8 202.1 836.9 203.4 833.8 C204.7 830.7 206.4 826.4 207.7 823.1 C209.0 819.8 209.9 817.3 211.1 814.1 C212.2 811.0 213.2 807.8 214.4 804.2 C215.7 800.6 217.2 796.3 218.5 792.5 C219.8 788.7 221.1 785.2 222.4 781.6 C223.6 777.9 224.4 775.7 226.0 770.6 C227.7 765.6 230.3 757.1 232.3 751.2 C234.4 745.3 236.3 739.8 238.2 735.4 C240.1 731.0 241.8 728.5 243.7 725.0 C245.7 721.4 247.4 717.9 249.9 714.3 C252.3 710.6 255.4 706.3 258.4 703.1 C261.5 699.9 265.0 697.4 268.2 695.1 C271.3 692.8 274.2 691.2 277.3 689.5 C280.5 687.8 284.0 686.2 287.1 684.9 C290.2 683.6 291.3 683.1 296.0 681.7 C300.7 680.3 309.0 677.9 315.2 676.4 C321.5 674.9 327.3 673.6 333.6 672.5 C339.8 671.4 346.2 670.6 352.5 669.8 C358.8 669.1 365.2 668.4 371.4 667.9 C377.7 667.4 381.8 667.6 389.8 666.7 C397.7 665.8 404.0 663.6 419.1 662.5 C434.2 661.5 459.8 660.5 480.2 660.1 C500.6 659.7 520.9 659.9 541.3 660.1 C561.7 660.3 592.2 661.1 602.4 661.3" fill="none" stroke="#00B050" stroke-width="5.0" stroke-linecap="round" stroke-linejoin="round" stroke-dasharray="9.50 10.50"/>
<path d="M162.5 719.9 C163.1 721.6 165.0 727.6 166.0 730.1 C167.0 732.6 167.6 732.2 168.6 734.9 C169.6 737.6 170.8 742.0 172.3 746.3 C173.7 750.7 175.7 757.1 177.1 761.2 C178.6 765.2 179.5 767.6 180.8 770.9 C182.1 774.1 183.5 777.6 184.8 780.6 C186.1 783.5 187.1 786.2 188.5 788.6 C190.0 791.0 191.6 793.3 193.5 794.9 C195.4 796.6 197.9 797.7 199.8 798.6 C201.6 799.4 202.7 799.9 204.6 800.0 C206.6 800.1 209.2 799.9 211.4 799.1 C213.5 798.2 215.4 796.9 217.5 794.9 C219.5 792.9 221.5 789.7 223.6 787.2 C225.6 784.6 227.7 782.2 229.7 779.9 C231.7 777.6 233.8 775.4 235.8 773.3 C237.8 771.2 239.6 769.3 241.9 767.2 C244.3 765.2 247.1 763.1 249.9 761.2 C252.6 759.3 255.5 757.6 258.4 755.8 C261.3 754.1 264.1 752.5 267.3 750.7 C270.4 748.9 274.0 747.1 277.3 745.1 C280.7 743.1 283.4 741.4 287.1 738.8 C290.9 736.2 294.8 733.5 300.0 729.6 C305.1 725.7 312.1 719.8 318.3 715.3 C324.5 710.7 330.9 706.5 337.2 702.1 C343.5 697.8 349.9 692.8 356.2 689.0 C362.5 685.3 368.9 682.2 375.1 679.5 C381.3 676.9 387.2 675.0 393.4 673.0 C399.6 671.0 406.1 668.8 412.4 667.4 C418.7 666.0 420.0 665.4 431.3 664.7 C442.6 664.1 467.0 663.5 480.2 663.5 C493.4 663.5 500.6 664.2 510.8 664.7 C520.9 665.3 531.1 666.2 541.3 666.9 C551.5 667.6 561.7 668.4 571.9 668.9 C582.0 669.3 597.3 669.7 602.4 669.8" fill="none" stroke="#FFC000" stroke-width="5.0" stroke-linecap="round" stroke-linejoin="round" stroke-dasharray="14.50 20.00"/>
<path d="M162.5 706.5 C162.9 708.1 163.9 712.5 164.9 716.2 C165.9 719.9 167.4 724.6 168.6 728.9 C169.8 733.1 170.8 736.7 172.3 741.7 C173.7 746.7 175.7 754.3 177.1 758.7 C178.6 763.2 179.5 765.2 180.8 768.4 C182.1 771.7 183.5 775.2 184.8 778.2 C186.1 781.1 187.1 783.8 188.5 786.2 C190.0 788.6 191.6 790.8 193.5 792.5 C195.4 794.2 197.9 795.3 199.8 796.1 C201.6 797.0 202.7 797.5 204.6 797.6 C206.6 797.7 209.2 797.5 211.4 796.6 C213.5 795.8 215.4 794.5 217.5 792.5 C219.5 790.5 221.5 787.8 223.6 784.7 C225.6 781.6 227.7 776.9 229.7 774.0 C231.7 771.2 233.8 769.6 235.8 767.5 C237.8 765.4 239.6 763.4 241.9 761.4 C244.3 759.4 247.1 757.2 249.9 755.3 C252.6 753.4 255.5 751.7 258.4 750.0 C261.3 748.2 264.1 746.7 267.3 744.9 C270.4 743.1 274.0 741.3 277.3 739.3 C280.7 737.3 283.4 735.6 287.1 733.0 C290.9 730.4 294.8 727.7 300.0 723.8 C305.1 719.8 312.1 714.0 318.3 709.4 C324.5 704.8 330.9 700.7 337.2 696.3 C343.5 691.9 349.9 687.0 356.2 683.2 C362.5 679.4 368.9 676.4 375.1 673.7 C381.3 671.0 387.2 669.2 393.4 667.2 C399.6 665.1 406.1 663.1 412.4 661.6 C418.7 660.1 420.0 658.9 431.3 658.2 C442.6 657.4 467.0 657.0 480.2 657.0 C493.4 657.0 500.6 657.6 510.8 658.2 C520.9 658.7 531.1 659.7 541.3 660.4 C551.5 661.0 561.7 661.8 571.9 662.3 C582.0 662.8 597.3 663.1 602.4 663.3" fill="none" stroke="#4472C4" stroke-width="5.0" stroke-linecap="round" stroke-linejoin="round" stroke-dasharray="14.00 20.00 0.01 20.00"/>
<path d="M162.5 697.5 C163.3 696.5 165.7 693.3 167.4 691.2 C169.0 689.1 170.4 687.2 172.3 684.9 C174.1 682.6 176.7 679.7 178.7 677.6 C180.7 675.5 182.4 673.5 184.3 672.0 C186.2 670.5 188.2 669.0 190.0 668.6 C191.7 668.3 193.1 668.6 194.9 669.8 C196.6 671.1 198.8 673.6 200.4 676.1 C201.9 678.7 202.9 682.2 204.0 684.9 C205.1 687.6 206.2 689.7 207.1 692.2 C208.0 694.7 208.7 697.1 209.5 700.0 C210.3 702.8 210.6 704.8 212.0 709.4 C213.3 714.1 216.0 722.5 217.5 727.9 C219.0 733.3 219.8 737.4 221.0 742.0 C222.2 746.5 223.7 751.1 224.8 755.1 C225.9 759.1 226.7 761.8 227.9 765.8 C229.0 769.8 230.3 775.2 231.5 779.1 C232.7 783.1 233.8 786.1 235.2 789.6 C236.6 793.1 238.3 796.7 240.1 800.0 C241.8 803.3 243.9 806.9 245.6 809.5 C247.2 812.1 248.2 813.5 249.9 815.6 C251.5 817.6 253.4 820.1 255.4 821.6 C257.3 823.1 259.1 824.2 261.5 824.6 C263.8 824.9 266.6 824.7 269.4 823.6 C272.3 822.5 275.5 820.2 278.6 817.8 C281.6 815.3 284.4 812.6 287.7 809.0 C291.1 805.4 295.4 800.7 298.7 796.1 C302.1 791.6 304.0 787.6 307.9 781.6 C311.8 775.5 317.3 766.6 322.0 759.7 C326.6 752.8 331.3 746.3 336.0 740.3 C340.7 734.2 345.4 728.4 350.1 723.3 C354.7 718.1 358.7 714.8 364.1 709.4 C369.5 704.0 376.3 696.9 382.4 691.0 C388.6 685.1 394.7 678.8 400.8 674.0 C406.9 669.1 413.0 664.8 419.1 661.8 C425.2 658.8 427.2 658.1 437.4 656.0 C447.6 653.9 462.9 650.3 480.2 649.2 C497.5 648.1 520.9 649.2 541.3 649.2 C561.7 649.2 592.2 649.2 602.4 649.2" fill="none" stroke="#70AD47" stroke-width="5.0" stroke-linecap="round" stroke-linejoin="round" stroke-dasharray="34.00 20.50"/>
<path d="M162.5 796.1 C163.3 793.0 165.7 783.9 167.4 777.4 C169.0 771.0 170.7 763.7 172.3 757.5 C173.8 751.3 175.1 745.4 176.5 740.3 C178.0 735.2 179.5 730.8 180.8 726.9 C182.1 723.0 183.2 720.2 184.5 716.7 C185.8 713.3 187.0 709.8 188.6 706.3 C190.1 702.7 191.8 698.6 193.6 695.6 C195.5 692.5 197.5 690.0 199.8 688.0 C202.0 686.1 204.8 684.5 207.3 683.9 C209.9 683.3 212.5 683.8 215.0 684.4 C217.5 685.0 219.9 686.2 222.4 687.6 C224.9 688.9 227.9 691.1 230.0 692.4 C232.1 693.7 232.7 694.4 235.2 695.3 C237.7 696.3 241.7 697.2 245.0 698.0 C248.2 698.8 251.5 699.7 254.7 700.0 C258.0 700.2 261.2 700.1 264.5 699.7 C267.9 699.3 271.5 698.3 274.9 697.5 C278.3 696.8 281.4 695.9 284.7 695.1 C288.0 694.2 291.5 693.4 294.8 692.4 C298.2 691.5 300.9 690.8 304.8 689.5 C308.8 688.2 312.9 686.6 318.3 684.6 C323.7 682.7 330.9 680.1 337.2 678.1 C343.5 676.1 349.9 674.4 356.2 672.5 C362.5 670.6 368.9 668.5 375.1 666.9 C381.3 665.3 387.2 664.1 393.4 663.0 C399.6 661.9 406.1 661.0 412.4 660.4 C418.7 659.7 420.0 659.4 431.3 659.1 C442.6 658.9 461.9 658.9 480.2 658.9 C498.5 658.9 520.9 659.0 541.3 659.4 C561.7 659.8 592.2 660.8 602.4 661.1" fill="none" stroke="#FF0000" stroke-width="5.0" stroke-linecap="round" stroke-linejoin="round"/>
<path d="M162.5 700.2 C162.9 702.8 163.9 711.0 164.9 715.7 C165.9 720.4 167.4 724.1 168.6 728.4 C169.8 732.6 170.8 736.3 172.3 741.2 C173.7 746.2 175.7 753.8 177.1 758.2 C178.6 762.7 179.5 764.7 180.8 768.0 C182.1 771.2 183.5 774.7 184.8 777.7 C186.1 780.6 187.1 783.3 188.5 785.7 C190.0 788.1 191.6 790.3 193.5 792.0 C195.4 793.7 197.9 794.8 199.8 795.7 C201.6 796.5 202.7 797.0 204.6 797.1 C206.6 797.2 209.2 797.0 211.4 796.1 C213.5 795.3 215.4 794.0 217.5 792.0 C219.5 790.0 221.5 787.4 223.6 784.2 C225.6 781.1 227.7 776.0 229.7 773.1 C231.7 770.1 233.8 768.6 235.8 766.5 C237.8 764.4 239.6 762.5 241.9 760.4 C244.3 758.4 247.1 756.3 249.9 754.4 C252.6 752.5 255.5 750.8 258.4 749.0 C261.3 747.3 264.1 745.7 267.3 743.9 C270.4 742.1 274.0 740.3 277.3 738.3 C280.7 736.3 283.4 734.6 287.1 732.0 C290.9 729.4 294.8 726.7 300.0 722.8 C305.1 718.9 312.1 713.0 318.3 708.5 C324.5 703.9 330.9 699.7 337.2 695.3 C343.5 691.0 349.9 686.0 356.2 682.2 C362.5 678.5 368.9 675.4 375.1 672.7 C381.3 670.1 387.2 668.2 393.4 666.2 C399.6 664.2 406.1 661.8 412.4 660.6 C418.7 659.4 420.0 659.1 431.3 658.9 C442.6 658.7 467.0 659.0 480.2 659.4 C493.4 659.8 500.6 660.7 510.8 661.3 C520.9 662.0 531.1 662.5 541.3 663.3 C551.5 664.0 561.7 665.1 571.9 665.7 C582.0 666.3 597.3 666.9 602.4 667.2" fill="none" stroke="#C00000" stroke-width="5.0" stroke-linecap="round" stroke-linejoin="round" stroke-dasharray="0.01 10"/>
<path d="M162.5 693.4 C163.5 694.5 166.6 697.5 168.6 700.0 C170.6 702.4 172.8 705.7 174.7 708.2 C176.6 710.7 177.8 712.5 179.8 715.0 C181.7 717.5 184.4 720.7 186.3 723.0 C188.2 725.3 189.2 726.1 191.2 728.9 C193.2 731.6 196.4 736.4 198.5 739.5 C200.6 742.7 202.0 744.6 203.7 747.6 C205.4 750.6 207.2 754.5 208.6 757.5 C210.0 760.5 211.1 762.6 212.3 765.5 C213.6 768.4 214.8 771.9 216.1 775.0 C217.3 778.1 218.7 781.2 219.9 784.2 C221.2 787.3 222.4 790.4 223.6 793.5 C224.8 796.5 225.8 799.4 227.2 802.5 C228.7 805.5 230.4 809.1 232.3 811.9 C234.2 814.8 236.0 817.4 238.5 819.7 C241.1 822.0 244.9 824.2 247.4 825.5 C249.9 826.8 251.2 827.1 253.5 827.5 C255.9 827.8 258.8 828.1 261.5 827.7 C264.1 827.4 266.8 826.5 269.4 825.3 C272.1 824.0 275.0 822.0 277.3 820.2 C279.7 818.4 281.4 816.5 283.5 814.4 C285.5 812.3 287.8 809.7 289.6 807.6 C291.3 805.4 290.8 806.3 293.8 801.7 C296.9 797.2 303.2 787.5 307.9 780.3 C312.6 773.2 317.3 765.8 322.0 759.0 C326.6 752.1 331.3 745.4 336.0 739.3 C340.7 733.2 345.4 727.7 350.1 722.5 C354.7 717.4 358.7 713.8 364.1 708.5 C369.5 703.1 376.3 696.3 382.4 690.5 C388.6 684.6 394.7 678.3 400.8 673.5 C406.9 668.7 413.0 664.7 419.1 661.8 C425.2 658.9 427.2 658.1 437.4 656.0 C447.6 653.9 462.9 650.1 480.2 649.2 C497.5 648.3 526.0 650.0 541.3 650.4 C556.6 650.8 561.7 651.4 571.9 651.6 C582.0 651.8 597.3 651.6 602.4 651.6" fill="none" stroke="#000000" stroke-width="5.0" stroke-linecap="round" stroke-linejoin="round" stroke-dasharray="9.50 10.50"/>
<path d="M162.5 815.3 C163.5 817.9 166.9 825.4 168.6 830.9 C170.3 836.3 171.1 842.4 172.6 847.9 C174.1 853.4 175.8 858.4 177.5 863.9 C179.3 869.5 181.3 877.0 183.1 881.2 C185.0 885.3 186.8 887.0 188.8 888.7 C190.7 890.3 193.1 891.2 194.9 891.1 C196.6 891.1 197.5 891.1 199.1 888.4 C200.8 885.8 202.9 879.9 204.6 875.1 C206.4 870.2 207.9 864.8 209.5 859.3 C211.1 853.8 212.7 847.8 214.1 842.3 C215.5 836.8 216.7 832.2 218.1 826.5 C219.5 820.8 220.9 814.4 222.4 808.3 C223.8 802.1 225.2 795.7 226.6 789.6 C228.1 783.4 229.4 777.2 230.9 771.4 C232.4 765.6 234.1 760.1 235.8 754.8 C237.5 749.6 239.4 744.9 241.3 740.0 C243.2 735.2 245.2 730.9 247.4 725.7 C249.6 720.5 252.1 713.5 254.7 708.7 C257.4 703.9 259.5 701.0 263.3 696.8 C267.1 692.5 273.8 686.0 277.3 683.2 C280.9 680.4 282.2 681.2 284.7 680.0 C287.2 678.9 288.5 677.8 292.3 676.1 C296.1 674.4 301.9 671.2 307.3 669.8 C312.6 668.5 318.5 668.5 324.4 667.9 C330.3 667.3 336.8 666.5 342.7 666.2 C348.6 665.9 353.8 666.0 359.8 665.9 C365.8 665.9 373.0 665.9 378.8 665.7 C384.6 665.5 387.9 665.3 394.7 664.7 C401.4 664.2 404.8 663.1 419.1 662.5 C433.4 662.0 459.8 661.5 480.2 661.3 C500.6 661.1 520.9 661.1 541.3 661.3 C561.7 661.5 592.2 662.3 602.4 662.5" fill="none" stroke="#7030A0" stroke-width="5.0" stroke-linecap="round" stroke-linejoin="round" stroke-dasharray="14.50 20.00"/>
<path d="M162.5 697.5 C163.3 696.5 165.7 693.3 167.4 691.2 C169.0 689.1 170.4 687.2 172.3 684.9 C174.1 682.6 176.7 679.7 178.7 677.6 C180.7 675.5 182.4 673.5 184.3 672.0 C186.2 670.5 188.2 669.0 190.0 668.6 C191.7 668.3 193.1 668.6 194.9 669.8 C196.6 671.1 198.8 673.6 200.4 676.1 C201.9 678.7 202.9 682.2 204.0 684.9 C205.1 687.6 206.2 689.7 207.1 692.2 C208.0 694.7 208.7 697.1 209.5 700.0 C210.3 702.8 210.6 704.8 212.0 709.4 C213.3 714.1 216.0 722.5 217.5 727.9 C219.0 733.3 219.8 737.4 221.0 742.0 C222.2 746.5 223.7 751.1 224.8 755.1 C225.9 759.1 226.7 761.8 227.9 765.8 C229.0 769.8 230.3 775.2 231.5 779.1 C232.7 783.1 233.8 786.1 235.2 789.6 C236.6 793.1 238.3 796.7 240.1 800.0 C241.8 803.3 243.9 806.9 245.6 809.5 C247.2 812.1 248.2 813.5 249.9 815.6 C251.5 817.6 253.4 820.1 255.4 821.6 C257.3 823.1 259.1 824.2 261.5 824.6 C263.8 824.9 266.6 824.7 269.4 823.6 C272.3 822.5 275.5 820.2 278.6 817.8 C281.6 815.3 284.4 812.6 287.7 809.0 C291.1 805.4 295.4 800.7 298.7 796.1 C302.1 791.6 304.0 787.6 307.9 781.6 C311.8 775.5 317.3 766.6 322.0 759.7 C326.6 752.8 331.3 746.3 336.0 740.3 C340.7 734.2 345.4 728.4 350.1 723.3 C354.7 718.1 358.7 714.8 364.1 709.4 C369.5 704.0 376.3 696.9 382.4 691.0 C388.6 685.1 394.7 678.8 400.8 674.0 C406.9 669.1 413.0 664.8 419.1 661.8 C425.2 658.8 427.2 658.1 437.4 656.0 C447.6 653.9 462.9 649.9 480.2 649.2 C497.5 648.5 527.0 650.5 541.3 651.6 C555.6 652.7 558.1 655.2 565.7 656.0 C573.4 656.8 581.0 657.4 587.1 656.5 C593.2 655.5 599.9 651.4 602.4 650.4" fill="none" stroke="#F78BE6" stroke-width="5.0" stroke-linecap="round" stroke-linejoin="round" stroke-dasharray="14.00 20.00 0.01 20.00"/>
<path d="M162.5 819.2 C163.0 817.7 164.1 814.8 165.5 810.0 C167.0 805.1 169.1 797.2 171.0 790.1 C173.0 783.0 175.3 773.8 177.1 767.5 C179.0 761.2 180.6 756.9 182.3 752.4 C184.1 748.0 185.9 743.9 187.5 740.8 C189.2 737.6 190.8 735.3 192.4 733.7 C194.0 732.1 195.7 731.3 197.3 731.0 C198.9 730.8 200.5 731.0 202.2 732.0 C203.9 733.0 205.6 734.1 207.3 737.1 C209.0 740.1 210.6 745.3 212.3 750.0 C214.0 754.7 215.8 760.4 217.5 765.3 C219.1 770.2 220.7 775.0 222.4 779.6 C224.0 784.3 225.7 789.0 227.4 793.2 C229.0 797.5 230.3 800.4 232.3 805.1 C234.4 809.9 237.3 817.1 239.8 821.6 C242.3 826.1 244.9 829.6 247.4 832.1 C249.9 834.6 252.3 835.8 254.7 836.7 C257.2 837.6 259.8 837.7 262.3 837.4 C264.8 837.1 267.3 836.3 269.8 835.0 C272.3 833.7 274.9 832.0 277.3 829.9 C279.8 827.8 281.9 825.7 284.7 822.6 C287.4 819.5 290.0 816.4 293.8 811.2 C297.7 806.0 303.2 798.3 307.9 791.5 C312.6 784.7 317.3 777.4 322.0 770.4 C326.6 763.3 331.3 756.1 336.0 749.3 C340.7 742.5 345.4 735.9 350.1 729.6 C354.7 723.3 359.4 717.2 364.1 711.4 C368.8 705.6 373.3 700.2 378.2 694.8 C383.1 689.5 388.1 684.2 393.4 679.5 C398.7 674.9 404.2 670.2 409.9 666.9 C415.6 663.6 422.1 661.8 427.7 659.6 C433.3 657.5 434.8 655.6 443.5 654.0 C452.3 652.5 470.0 650.4 480.2 650.4 C490.4 650.4 498.5 652.9 504.6 654.0 C510.8 655.2 512.3 656.6 516.9 657.4 C521.4 658.3 526.0 658.8 532.1 659.4 C538.2 659.9 545.9 660.2 553.5 660.7 C561.2 661.2 569.8 661.8 578.0 662.3 C586.1 662.8 598.3 663.7 602.4 664.0" fill="none" stroke="#00B0F0" stroke-width="5.0" stroke-linecap="round" stroke-linejoin="round"/>
</g>
</svg>
</body></html>
